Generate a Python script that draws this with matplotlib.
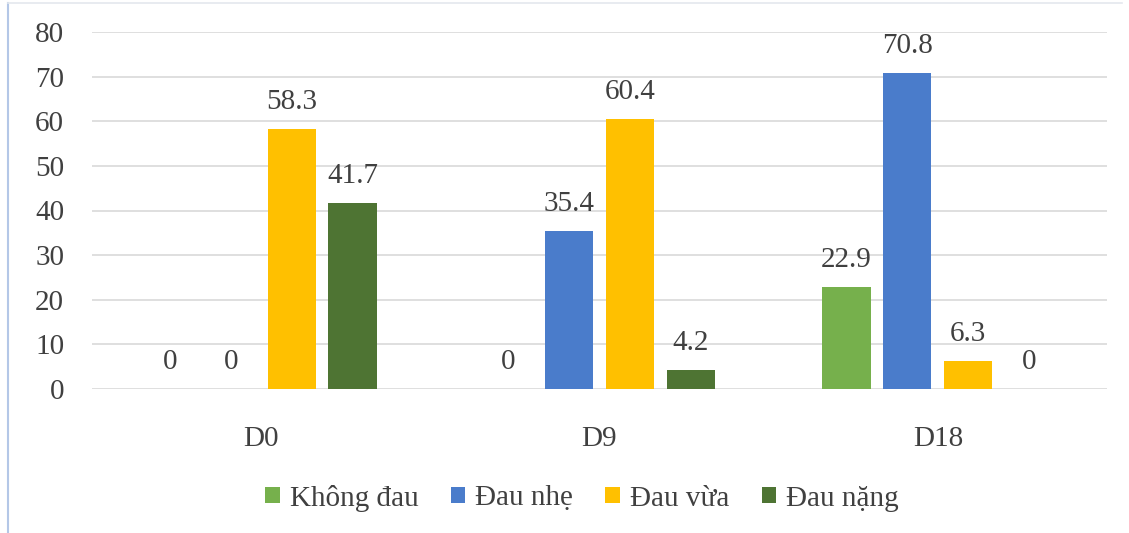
import matplotlib.pyplot as plt
import numpy as np

plt.rcParams['font.family'] = ['Liberation Serif', 'DejaVu Serif']

days = ['D0', 'D9', 'D18']
series = ['Không đau', 'Đau nhẹ', 'Đau vừa', 'Đau nặng']
khong_dau = [0, 0, 22.9]
dau_nhe = [0, 35.4, 70.8]
dau_vua = [58.3, 60.4, 6.3]
dau_nang = [41.7, 4.2, 0]
colors = ['#76B04C', '#4A7CCB', '#FFC000', '#4E7433']

values = [khong_dau, dau_nhe, dau_vua, dau_nang]
text_color = '#404040'

fig = plt.figure(figsize=(11.29, 5.33), dpi=100)
ax = fig.add_axes([92 / 1129, 1 - 389 / 533, (1107 - 92) / 1129, (389 - 32) / 533])

x = np.arange(len(days))
pitch = 0.18
width = 0.142
for i, (name, vals, c) in enumerate(zip(series, values, colors)):
    pos = x + (i - 1.5) * pitch
    ax.bar(pos, vals, width, color=c, label=name, zorder=3)
    for p, v in zip(pos, vals):
        ax.text(p, v + 6.1, f'{v:g}', ha='center', va='center',
                fontsize=21, color=text_color)

ax.set_xlim(-0.5, 2.5)
ax.set_ylim(0, 80)
ax.set_yticks(range(0, 81, 10))
ax.set_xticks(x)
ax.set_xticklabels(days)
ax.tick_params(axis='both', length=0, labelsize=21, colors=text_color)
ax.tick_params(axis='y', pad=20)
ax.tick_params(axis='x', pad=27)
ax.grid(axis='y', color='#D9D9D9', linewidth=1.2, zorder=0)
for s in ax.spines.values():
    s.set_visible(False)

ax.legend(loc='center', bbox_to_anchor=(582 / 1129, 1 - 498 / 533),
          bbox_transform=fig.transFigure, ncol=4, frameon=False,
          fontsize=21, handlelength=0.5, handleheight=0.5, handletextpad=0.35,
          columnspacing=1.1, labelcolor=text_color)

# chart border (left and top edges)
fig.add_artist(plt.Line2D([8 / 1129, 8 / 1129], [0, 1 - 3 / 533],
                          transform=fig.transFigure, color='#B4C7E7', linewidth=1.5))
fig.add_artist(plt.Line2D([8 / 1129, 1122 / 1129], [1 - 3 / 533, 1 - 3 / 533],
                          transform=fig.transFigure, color='#E4E8EE', linewidth=1.2))

fig.savefig('out.png', dpi=100)
